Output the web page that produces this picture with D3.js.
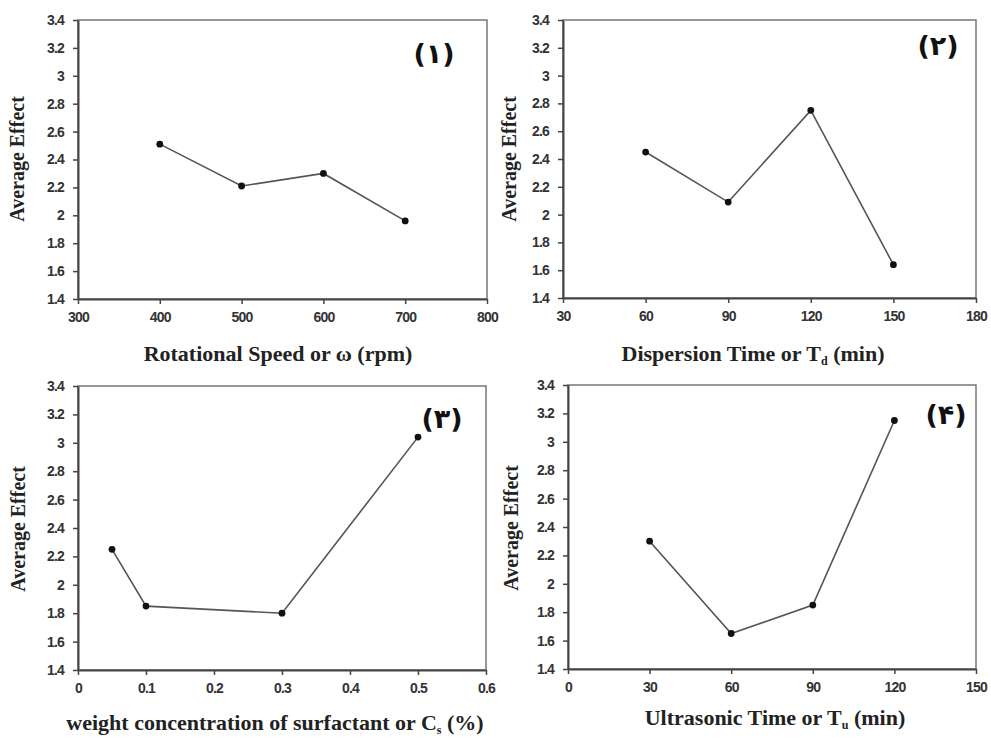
<!DOCTYPE html>
<html><head><meta charset="utf-8">
<script src="https://cdn.jsdelivr.net/npm/d3@7"></script>
<style>body{margin:0;background:#fff}svg{display:block}</style>
</head><body>
<svg id="c" width="991" height="738"></svg>
<script>
const yTicks = [1.4,1.6,1.8,2,2.2,2.4,2.6,2.8,3,3.2,3.4];
const x1 = [400,500,600,700], y1 = [2.51,2.21,2.30,1.96], xt1 = [300,400,500,600,700,800];
const x2 = [60,90,120,150], y2 = [2.45,2.09,2.75,1.64], xt2 = [30,60,90,120,150,180];
const x3 = [0.05,0.1,0.3,0.5], y3 = [2.25,1.85,1.80,3.04], xt3 = [0,0.1,0.2,0.3,0.4,0.5,0.6];
const x4 = [30,60,90,120], y4 = [2.30,1.65,1.85,3.15], xt4 = [0,30,60,90,120,150];
const panelLabels = ["(۱)","(۲)","(۳)","(۴)"];
const yTitle = "Average Effect";
const xTitles = [
  [["Rotational Speed or ω  (rpm)",""]],
  [["Dispersion Time or T",""],["d","sub"],["  (min)",""]],
  [["weight concentration of surfactant or C",""],["s","sub"],[" (%)",""]],
  [["Ultrasonic Time or T",""],["u","sub"],[" (min)",""]]
];

const panels = [
  {xs:x1, ys:y1, xt:xt1, box:[78,20,487,299], lab:[434,63], xtl:[278,361], ytl:[24,159]},
  {xs:x2, ys:y2, xt:xt2, box:[563,20,976,298], lab:[938,55], xtl:[753,361], ytl:[516,159]},
  {xs:x3, ys:y3, xt:xt3, box:[78,386,486,670], lab:[442,428], xtl:[275,730], ytl:[25,529]},
  {xs:x4, ys:y4, xt:xt4, box:[568,385,976,669], lab:[946,424], xtl:[775,725], ytl:[518,528]}
];

const svg = d3.select("#c");
const serif = "'Liberation Serif','DejaVu Serif',serif";
const sans = "'Liberation Sans','DejaVu Sans',sans-serif";

panels.forEach((p,i)=>{
  const [l,t,r,b] = p.box;
  const x = d3.scaleLinear().domain(d3.extent(p.xt)).range([l,r]);
  const y = d3.scaleLinear().domain([1.4,3.4]).range([b,t]);
  const g = svg.append("g");
  g.append("rect").attr("x",l).attr("y",t).attr("width",r-l).attr("height",b-t)
    .attr("fill","none").attr("stroke","#777").attr("stroke-width",1.5);
  const ax = g.append("g").attr("transform",`translate(0,${b})`)
    .call(d3.axisBottom(x).tickValues(p.xt).tickFormat(d=>d).tickSizeInner(5).tickSizeOuter(0).tickPadding(8));
  const ay = g.append("g").attr("transform",`translate(${l},0)`)
    .call(d3.axisLeft(y).tickValues(yTicks).tickFormat(d=>d).tickSizeInner(5).tickSizeOuter(0).tickPadding(9));
  [ax,ay].forEach(a=>{
    a.select(".domain").attr("stroke","#444").attr("stroke-width",2);
    a.selectAll(".tick line").attr("stroke","#444").attr("stroke-width",1.5);
    a.selectAll(".tick text").attr("fill","#333").style("font-family",sans)
      .style("font-size","14px").style("font-weight","bold").style("letter-spacing","-0.8px");
  });
  const pts = p.xs.map((v,k)=>[x(v),y(p.ys[k])]);
  g.append("path").attr("d",d3.line()(pts)).attr("fill","none").attr("stroke","#555").attr("stroke-width",1.6);
  g.selectAll("circle.pt").data(pts).enter().append("circle")
    .attr("cx",d=>d[0]).attr("cy",d=>d[1]).attr("r",3.4).attr("fill","#111");
  g.append("text").attr("x",p.lab[0]).attr("y",p.lab[1]).attr("text-anchor","middle")
    .style("font-family","'DejaVu Sans',sans-serif").style("font-weight","bold").style("font-size","27px")
    .attr("fill","#111").text(panelLabels[i]);
  const xtEl = g.append("text").attr("x",p.xtl[0]).attr("y",p.xtl[1]).attr("text-anchor","middle")
    .style("font-family",serif).style("font-weight","bold").style("font-size","22px").attr("fill","#222");
  xTitles[i].forEach(([s,kind],k)=>{
    const ts = xtEl.append("tspan").text(s);
    if(kind==="sub") ts.attr("dy",4).style("font-size","12px");
    else if(k>0) ts.attr("dy",-4);
  });
  g.append("text").attr("transform",`translate(${p.ytl[0]},${p.ytl[1]}) rotate(-90)`)
    .attr("text-anchor","middle").style("font-family",serif).style("font-weight","bold")
    .style("font-size","20px").attr("fill","#222").text(yTitle);
});
</script>
</body></html>
